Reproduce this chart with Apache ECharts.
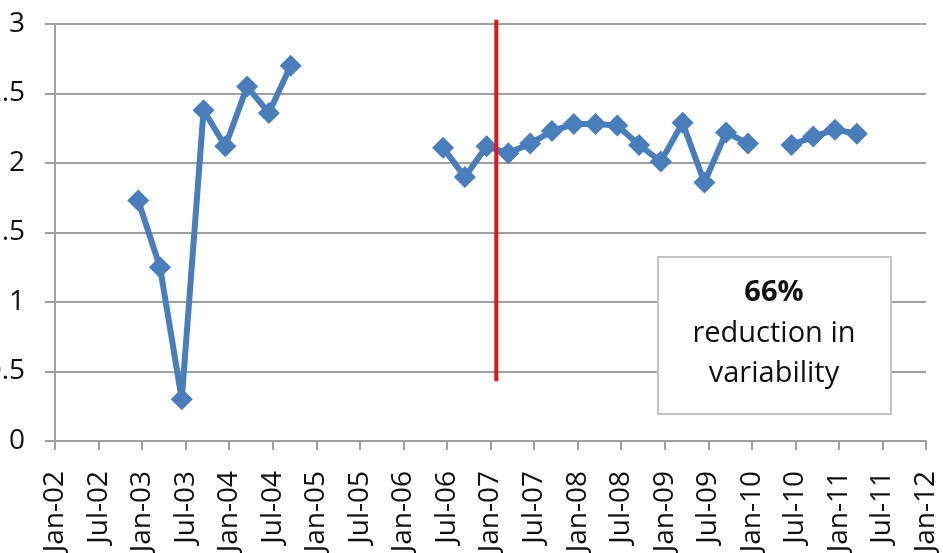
<!DOCTYPE html>
<html>
<head>
<meta charset="utf-8">
<script src="https://cdn.jsdelivr.net/npm/echarts@6/dist/echarts.min.js"></script>
<style>
  html, body { margin: 0; padding: 0; background: #ffffff; }
  #chart { width: 943px; height: 553px; }
</style>
</head>
<body>
<div id="chart"></div>
<script>
// Quarterly observations (null = no reading for that quarter)
const quarters = [
  '2002-12-15', '2003-03-15', '2003-06-15', '2003-09-15', '2003-12-15',
  '2004-03-15', '2004-06-15', '2004-09-15', '2004-12-15', '2005-03-15',
  '2005-06-15', '2005-09-15', '2005-12-15', '2006-03-15', '2006-06-15',
  '2006-09-15', '2006-12-15', '2007-03-15', '2007-06-15', '2007-09-15',
  '2007-12-15', '2008-03-15', '2008-06-15', '2008-09-15', '2008-12-15',
  '2009-03-15', '2009-06-15', '2009-09-15', '2009-12-15', '2010-03-15',
  '2010-06-15', '2010-09-15', '2010-12-15', '2011-03-15'
];
const values = [
  1.73, 1.25, 0.30, 2.38, 2.12,
  2.55, 2.36, 2.70, null, null,
  null, null, null, null, 2.11,
  1.90, 2.12, 2.07, 2.14, 2.23,
  2.28, 2.28, 2.27, 2.13, 2.01,
  2.29, 1.86, 2.22, 2.14, null,
  2.13, 2.19, 2.24, 2.21
];

// Axis tick labels, one every six months from Jan-02 to Jan-12
const tickLabels = [
  'Jan-02', 'Jul-02', 'Jan-03', 'Jul-03', 'Jan-04', 'Jul-04', 'Jan-05',
  'Jul-05', 'Jan-06', 'Jul-06', 'Jan-07', 'Jul-07', 'Jan-08', 'Jul-08',
  'Jan-09', 'Jul-09', 'Jan-10', 'Jul-10', 'Jan-11', 'Jul-11', 'Jan-12'
];

// Process change marker date and its vertical extent
const changeDate = '2007-01-25';
const changeSpan = [0.43, 3.03];

// Annotation text
const noteHead = '66%';
const noteBody = ['reduction in', 'variability'];

// Months elapsed since Jan 2002 (value-axis position)
function monthIndex(d) {
  const [y, m, day] = d.split('-').map(Number);
  return (y - 2002) * 12 + (m - 1) + (day - 1) / 30;
}

const seriesData = quarters.map((d, i) => [monthIndex(d), values[i]]);
const changeX = monthIndex(changeDate);

const FONT = '"Open Sans", sans-serif';
const GRID = '#a0a0a0';

const chart = echarts.init(document.getElementById('chart'), null, { renderer: 'canvas' });

chart.setOption({
  animation: false,
  backgroundColor: '#ffffff',
  grid: {
    left: 55, right: 17, top: 24, bottom: 112,
    containLabel: false,
    outerBoundsMode: 'none'
  },
  xAxis: {
    type: 'value',
    min: 0,
    max: 120,
    interval: 6,
    axisLine: { show: true, lineStyle: { color: GRID, width: 2 } },
    axisTick: { show: true, length: 9, lineStyle: { color: GRID, width: 2 } },
    splitLine: { show: false },
    axisLabel: {
      rotate: 90,
      margin: 30,
      fontFamily: FONT,
      fontSize: 28,
      color: '#111111',
      hideOverlap: false,
      formatter: v => tickLabels[Math.round(v / 6)] || ''
    }
  },
  yAxis: {
    type: 'value',
    min: 0,
    max: 3,
    interval: 0.5,
    axisLine: { show: true, lineStyle: { color: GRID, width: 2 } },
    axisTick: { show: true, length: 10, lineStyle: { color: GRID, width: 2 } },
    splitLine: { show: true, lineStyle: { color: GRID, width: 2 } },
    axisLabel: {
      margin: 30,
      fontFamily: FONT,
      fontSize: 28,
      color: '#111111',
      formatter: v => String(v)
    }
  },
  series: [
    {
      type: 'line',
      data: seriesData,
      connectNulls: false,
      symbol: 'diamond',
      symbolSize: 22,
      lineStyle: { color: '#4a7ebb', width: 6 },
      itemStyle: { color: '#4a7ebb' },
      z: 3
    },
    {
      type: 'line',
      data: [[changeX, changeSpan[0]], [changeX, changeSpan[1]]],
      symbol: 'none',
      clip: false,
      lineStyle: { color: '#e4141b', width: 4 },
      z: 4
    }
  ],
  graphic: [
    {
      type: 'group',
      left: 657,
      top: 256,
      z: 100,
      children: [
        {
          type: 'rect',
          z: 100,
          shape: { x: 0, y: 0, width: 233, height: 157 },
          style: { fill: '#ffffff', stroke: '#c4c4c4', lineWidth: 2 }
        },
        {
          type: 'text',
          z: 101,
          x: 116, y: 36,
          style: {
            text: noteHead, fontFamily: FONT, fontSize: 29, fontWeight: 'bold',
            fill: '#111111', align: 'center', verticalAlign: 'middle'
          }
        },
        {
          type: 'text',
          z: 101,
          x: 116, y: 77,
          style: {
            text: noteBody[0], fontFamily: FONT, fontSize: 29,
            fill: '#111111', align: 'center', verticalAlign: 'middle'
          }
        },
        {
          type: 'text',
          z: 101,
          x: 116, y: 117,
          style: {
            text: noteBody[1], fontFamily: FONT, fontSize: 29,
            fill: '#111111', align: 'center', verticalAlign: 'middle'
          }
        }
      ]
    }
  ]
});
</script>
</body>
</html>
